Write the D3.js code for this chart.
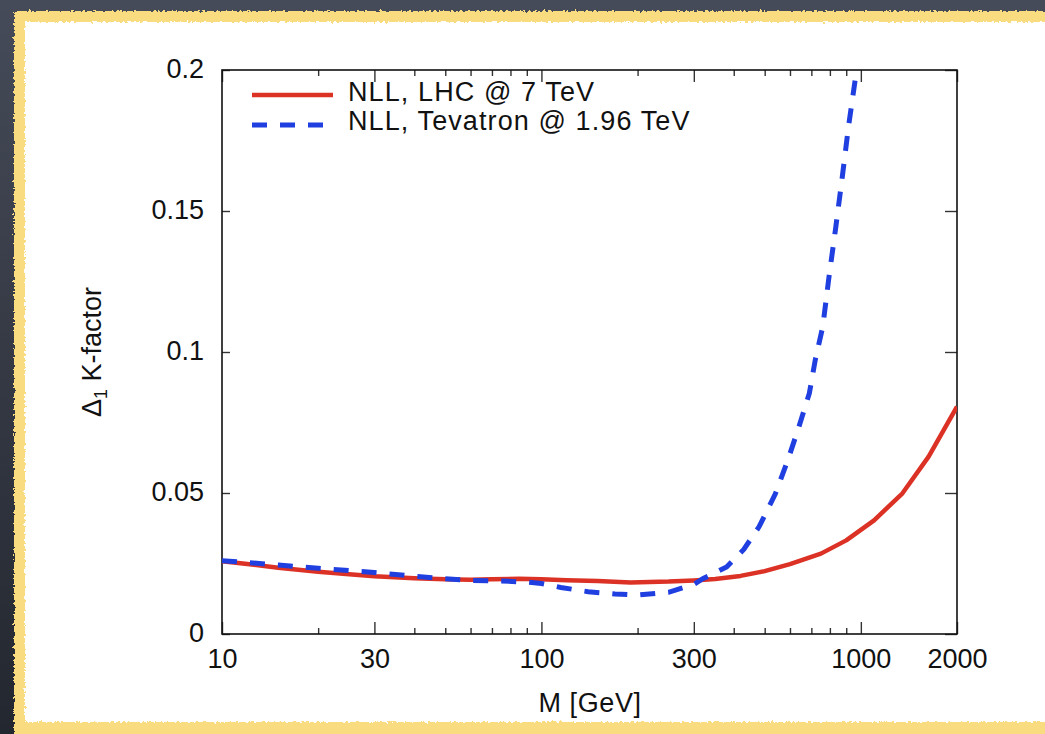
<!DOCTYPE html>
<html>
<head>
<meta charset="utf-8">
<script src="https://cdn.jsdelivr.net/npm/d3@7"></script>
<style>
  html, body { margin: 0; padding: 0; background: #363b48; overflow: hidden; }
  svg { display: block; }
  text { font-family: "Liberation Sans", Arial, Helvetica, sans-serif; fill: #111; }
</style>
</head>
<body>
<svg id="chart" width="1045" height="734"></svg>
<script>
// ---- data ----
const lhcMass = [10, 12, 15, 20, 25, 30, 40, 50, 60, 70, 85, 100, 120, 150, 190, 250, 300, 350, 420, 500, 600, 750, 900, 1100, 1350, 1630, 2000];
const lhcK    = [0.0258, 0.0248, 0.0235, 0.0221, 0.0212, 0.0205, 0.0198, 0.0194, 0.0192, 0.0194, 0.0196, 0.0194, 0.0191, 0.0188, 0.0183, 0.0186, 0.0190, 0.0195, 0.0206, 0.0223, 0.0248, 0.0285, 0.0332, 0.0403, 0.0499, 0.0629, 0.0806];

const tevMass = [10, 15, 20, 30, 40, 50, 60, 75, 90, 100, 115, 140, 170, 200, 250, 300, 320, 340, 380, 430, 480, 540, 590, 640, 690, 720, 760, 795, 835, 875, 915, 960, 990];
const tevK    = [0.0260, 0.0245, 0.0233, 0.0218, 0.0205, 0.0196, 0.0190, 0.0188, 0.0184, 0.0179, 0.0165, 0.0150, 0.0142, 0.0138, 0.0148, 0.0176, 0.0196, 0.0210, 0.0238, 0.0300, 0.0380, 0.0497, 0.0615, 0.0735, 0.0854, 0.0972, 0.1090, 0.1267, 0.1444, 0.1622, 0.1800, 0.1965, 0.2080];

const xMajorTicks = [10, 30, 100, 300, 1000, 2000];
const xMinorTicks = [20, 40, 50, 60, 70, 80, 90, 200, 400, 500, 600, 700, 800, 900];
const yTicks = [0, 0.05, 0.1, 0.15, 0.2];
const yTickLabels = ["0", "0.05", "0.1", "0.15", "0.2"];
const legendLabels = ["NLL, LHC @ 7 TeV", "NLL, Tevatron @ 1.96 TeV"];

// ---- layout ----
const W = 1045, H = 734;
const pL = 222, pR = 957, pT = 70, pB = 634;
const svg = d3.select("#chart");

// background: dark slate, rough yellow border, white panel
const defs = svg.append("defs");
const rough = defs.append("filter").attr("id", "rough")
  .attr("filterUnits", "userSpaceOnUse")
  .attr("x", -20).attr("y", -20).attr("width", W + 200).attr("height", H + 100);
rough.append("feTurbulence").attr("type", "fractalNoise").attr("baseFrequency", "0.35").attr("numOctaves", 2).attr("result", "noise");
rough.append("feDisplacementMap").attr("in", "SourceGraphic").attr("in2", "noise").attr("scale", 5);

const grad = defs.append("linearGradient").attr("id", "slate").attr("x1", 0).attr("y1", 0).attr("x2", 0).attr("y2", 1);
grad.append("stop").attr("offset", "0%").attr("stop-color", "#464b59");
grad.append("stop").attr("offset", "100%").attr("stop-color", "#23272f");

svg.append("rect").attr("width", W).attr("height", H).attr("fill", "url(#slate)");
svg.append("rect").attr("x", 14).attr("y", 11).attr("width", W + 150).attr("height", H + 60)
  .attr("fill", "#f9dc7f").attr("filter", "url(#rough)");
svg.append("rect").attr("x", 20).attr("y", 17).attr("width", W).attr("height", H)
  .attr("fill", "#f9dc7f");
svg.append("rect").attr("x", 25).attr("y", 22).attr("width", W + 150).attr("height", 700)
  .attr("fill", "#ffffff").attr("filter", "url(#rough)");
svg.append("rect").attr("x", 30).attr("y", 27).attr("width", W).attr("height", 690)
  .attr("fill", "#ffffff");

// ---- scales ----
const x = d3.scaleLog().domain([10, 2000]).range([pL, pR]);
const y = d3.scaleLinear().domain([0, 0.2]).range([pB, pT]);

defs.append("clipPath").attr("id", "plotclip")
  .append("rect").attr("x", pL).attr("y", pT).attr("width", pR - pL).attr("height", pB - pT);

// ---- axes (inward ticks) ----
function styleAxis(g) {
  g.select(".domain").remove();
  g.selectAll(".tick line").attr("stroke", "#333").attr("stroke-width", 1.4);
}
svg.append("g").attr("transform", `translate(0,${pB})`)
  .call(d3.axisBottom(x).tickValues(xMajorTicks).tickSize(-12).tickFormat(d => d3.format("d")(d)).tickPadding(15))
  .call(styleAxis)
  .call(g => g.selectAll(".tick text").attr("font-size", 27).attr("fill", "#111").attr("font-family", "Liberation Sans, Arial, sans-serif"));
svg.append("g").attr("transform", `translate(0,${pB})`)
  .call(d3.axisBottom(x).tickValues(xMinorTicks).tickSize(-6).tickFormat(""))
  .call(styleAxis);
svg.append("g").attr("transform", `translate(0,${pT})`)
  .call(d3.axisTop(x).tickValues(xMajorTicks).tickSize(-12).tickFormat(""))
  .call(styleAxis);
svg.append("g").attr("transform", `translate(0,${pT})`)
  .call(d3.axisTop(x).tickValues(xMinorTicks).tickSize(-6).tickFormat(""))
  .call(styleAxis);

svg.append("g").attr("transform", `translate(${pL},0)`)
  .call(d3.axisLeft(y).tickValues(yTicks).tickSize(-8).tickFormat((d, i) => yTickLabels[i]).tickPadding(18))
  .call(styleAxis)
  .call(g => g.selectAll(".tick text").attr("font-size", 27).attr("fill", "#111").attr("dy", "0.28em")
    .attr("font-family", "Liberation Sans, Arial, sans-serif"));
svg.append("g").attr("transform", `translate(${pR},0)`)
  .call(d3.axisRight(y).tickValues(yTicks).tickSize(-12).tickFormat(""))
  .call(styleAxis);

// frame
svg.append("rect").attr("x", pL).attr("y", pT).attr("width", pR - pL).attr("height", pB - pT)
  .attr("fill", "none").attr("stroke", "#111").attr("stroke-width", 1.6);

// ---- curves ----
const line = d3.line().x(d => x(d[0])).y(d => y(d[1])).curve(d3.curveLinear);
const lhc = lhcMass.map((m, i) => [m, lhcK[i]]);
const tev = tevMass.map((m, i) => [m, tevK[i]]);

const plot = svg.append("g").attr("clip-path", "url(#plotclip)");
plot.append("path").datum(lhc).attr("d", line)
  .attr("fill", "none").attr("stroke", "#dc3226").attr("stroke-width", 4.5).attr("stroke-linejoin", "round");
plot.append("path").datum(tev).attr("d", line)
  .attr("fill", "none").attr("stroke", "#1f3fe0").attr("stroke-width", 5).attr("stroke-dasharray", "15,13");

// ---- legend ----
const lg = svg.append("g");
lg.append("line").attr("x1", 252).attr("x2", 333).attr("y1", 95).attr("y2", 95)
  .attr("stroke", "#dc3226").attr("stroke-width", 4.5);
lg.append("line").attr("x1", 252).attr("x2", 324).attr("y1", 125).attr("y2", 125)
  .attr("stroke", "#1f3fe0").attr("stroke-width", 5).attr("stroke-dasharray", "15,13");
lg.selectAll("text.leg").data(legendLabels).join("text").attr("class", "leg")
  .attr("x", 348).attr("y", (d, i) => 101 + i * 29)
  .attr("font-size", 27).attr("letter-spacing", 1.1).text(d => d);

// ---- axis titles ----
svg.append("text").attr("x", 590).attr("y", 712).attr("text-anchor", "middle")
  .attr("font-size", 27).attr("letter-spacing", 0.6).text("M [GeV]");
const yt = svg.append("text").attr("transform", "translate(101,352) rotate(-90)")
  .attr("text-anchor", "middle").attr("font-size", 27);
yt.append("tspan").text("Δ");
yt.append("tspan").attr("font-size", 18).attr("dy", 6).text("1");
yt.append("tspan").attr("dy", -6).text(" K-factor");
</script>
</body>
</html>
